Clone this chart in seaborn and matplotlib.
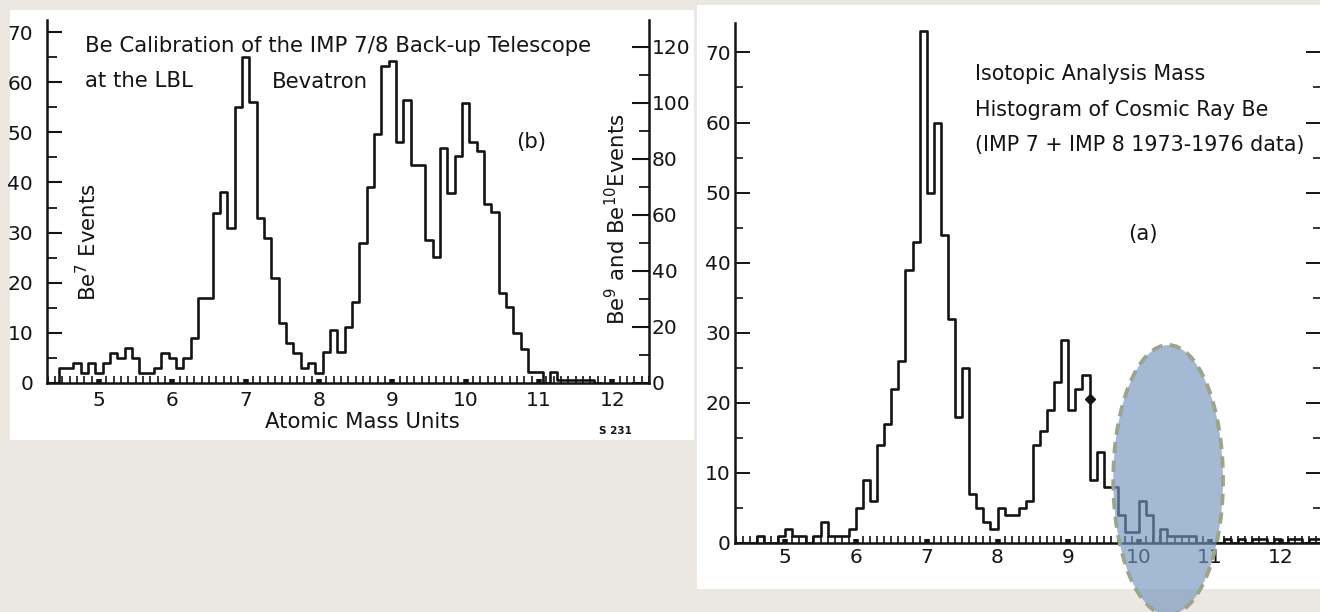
import numpy as np
import pandas as pd
import matplotlib
matplotlib.use("Agg")
import matplotlib.pyplot as plt
from matplotlib.patches import Ellipse, Rectangle
from matplotlib.ticker import MultipleLocator
import seaborn as sns

# ---------------------------------------------------------------- data
bin_width = 0.1

# (b) Bevatron calibration run, bins centred on 4.5, 4.6, ... amu
calib_first_center = 4.5
# Be7 part, read on the left scale (bins 4.5 .. 8.0)
be7_counts = [3, 3, 4, 2, 4, 2, 4, 6, 5, 7, 5, 2, 2, 3, 6, 5, 3, 5, 9, 17,
              17, 34, 38, 31, 55, 65, 56, 33, 29, 21, 12, 8, 6, 3, 4, 2]
# Be9 + Be10 part, read on the right scale (bins 8.1 .. 11.7)
be9_be10_counts = [11, 19, 11, 20, 29, 50, 70, 89, 113, 115, 86, 101, 78, 78,
                   51, 45, 84, 68, 81, 100, 86, 83, 64, 61, 32, 27, 18, 12,
                   4, 4, 0, 4, 1, 1, 1, 1, 1]

# (a) cosmic-ray Be, IMP 7 + IMP 8 1973-1976, bins with left edges 4.6 .. 12.4
cosmic_first_edge = 4.6
cosmic_counts = [1, 0, 0, 1, 2, 1, 1, 0, 1, 3, 1, 1, 1, 2, 5, 9, 6, 14, 17, 22,
                 26, 39, 43, 73, 50, 60, 44, 32, 18, 25, 7, 5, 3, 2, 5, 4, 4, 5,
                 6, 14, 16, 19, 23, 29, 19, 22, 24, 9, 13, 8, 8, 4, 1.5, 1.5,
                 6, 4, 0, 2, 1, 1, 1, 1, 0, 0, 0, 0, 0.5, 0, 0.5, 0, 0.5, 0.5,
                 0, 0.5, 0, 0.5, 0.5, 0, 0.5, 0.5]
# stray ink dot on the (a) histogram
cosmic_dot = (9.3, 20.5)

mass_ticks = [5, 6, 7, 8, 9, 10, 11, 12]
be7_ticks = [0, 10, 20, 30, 40, 50, 60, 70]
be910_ticks = [0, 20, 40, 60, 80, 100, 120]
cosmic_ticks = [0, 10, 20, 30, 40, 50, 60, 70]

# ---------------------------------------------------------------- style
sns.set_style("white")
plt.rcParams["font.family"] = ["DejaVu Sans"]
plt.rcParams["mathtext.fontset"] = "custom"
plt.rcParams["mathtext.rm"] = "DejaVu Sans"
plt.rcParams["mathtext.it"] = "DejaVu Sans"

INK = "#141414"
PAPER_BG = "#ebe7e1"
FS = 15.3        # lettering
FS_TICK = 14.5   # tick numerals

FW, FH = 1320, 612
fig = plt.figure(figsize=(FW / 100, FH / 100), dpi=100)
fig.patch.set_facecolor(PAPER_BG)


def box(x0, y0, x1, y1):
    """figure-fraction rectangle from pixel corners (origin top-left)"""
    return [x0 / FW, 1 - y1 / FH, (x1 - x0) / FW, (y1 - y0) / FH]


def ftext(x, y, s, **kw):
    kw.setdefault("fontsize", FS)
    kw.setdefault("color", INK)
    fig.text(x / FW, 1 - y / FH, s, **kw)


# white sheets behind each plot
for x0, y0, x1, y1 in [(10, 10, 694, 440), (697, 5, 1320, 589)]:
    l, b, w, h = box(x0, y0, x1, y1)
    fig.add_artist(Rectangle((l, b), w, h, transform=fig.transFigure,
                             facecolor="white", edgecolor="none", zorder=0))


def style_mass_axis(ax, pad):
    ax.set_xticks(mass_ticks)
    ax.set_xticklabels([str(t) for t in mass_ticks])
    ax.xaxis.set_minor_locator(MultipleLocator(0.1))
    ax.tick_params(axis="x", which="major", direction="in", length=3, width=4,
                   pad=pad, labelsize=FS_TICK, colors=INK, bottom=True)
    ax.tick_params(axis="x", which="minor", direction="in", length=5,
                   width=1.2, colors=INK, bottom=True)
    ax.set_xlabel("")
    ax.set_ylabel("")


# ---------------------------------------------------------------- (b)
ax_b = fig.add_axes(box(47, 20, 649, 383))
ax_b.set_facecolor("none")
b_left_top, b_right_top = 72.4, 129.6
scale_ratio = b_right_top / b_left_top

heights_b = np.concatenate([np.asarray(be7_counts, float),
                            np.asarray(be9_be10_counts, float) / scale_ratio])
heights_b = np.pad(heights_b, 1)
edges_b = (calib_first_center - 1.5 * bin_width
           + bin_width * np.arange(len(heights_b) + 1))
df_b = pd.DataFrame({"mass": edges_b[:-1] + bin_width / 2, "events": heights_b})
sns.histplot(data=df_b, x="mass", weights="events", bins=edges_b.tolist(),
             element="step", fill=False, color=INK, linewidth=1.9, ax=ax_b)

ax_b.set_xlim(4.29, 12.50)
ax_b.set_ylim(0, b_left_top)
style_mass_axis(ax_b, pad=6)
ax_b.set_yticks(be7_ticks)
ax_b.set_yticklabels([str(t) for t in be7_ticks])
ax_b.yaxis.set_minor_locator(MultipleLocator(5))
ax_b.tick_params(axis="y", which="major", direction="in", length=11, width=1.5,
                 pad=10, labelsize=FS_TICK, colors=INK, left=True)
ax_b.tick_params(axis="y", which="minor", direction="in", length=7, width=1.3,
                 colors=INK, left=True)
for side in ("top", "right"):
    ax_b.spines[side].set_visible(False)
for side in ("left", "bottom"):
    ax_b.spines[side].set_color(INK)
    ax_b.spines[side].set_linewidth(1.8)

ax_b2 = ax_b.twinx()
ax_b2.set_ylim(0, b_right_top)
ax_b2.set_yticks(be910_ticks)
ax_b2.set_yticklabels([str(t) for t in be910_ticks])
ax_b2.yaxis.set_minor_locator(MultipleLocator(10))
ax_b2.tick_params(axis="y", which="major", direction="in", length=12, width=1.5,
                  pad=2, labelsize=FS_TICK, colors=INK, right=True)
ax_b2.tick_params(axis="y", which="minor", direction="in", length=7, width=1.3,
                  colors=INK, right=True)
for side in ("top", "left", "bottom"):
    ax_b2.spines[side].set_visible(False)
ax_b2.spines["right"].set_color(INK)
ax_b2.spines["right"].set_linewidth(1.8)

ftext(85, 46, "Be Calibration of the IMP 7/8 Back-up Telescope", va="center")
ftext(85, 81, "at the LBL", va="center")
ftext(272, 82, "Bevatron", va="center")
ftext(531, 142, "(b)", ha="center", va="center")
ftext(88, 242, "Be$^{7}$ Events", ha="center", va="center", rotation=90)
ftext(617, 219, "Be$^{9}$ and Be$^{10}$Events", ha="center", va="center",
      rotation=90)
ftext(362, 422, "Atomic Mass Units", ha="center", va="center")
ftext(615, 431, "S 231", ha="center", va="center", fontsize=7.5,
      fontweight="bold")

# ---------------------------------------------------------------- (a)
ax_a = fig.add_axes(box(735, 23, 1321, 543))
ax_a.set_facecolor("none")
heights_a = np.pad(np.asarray(cosmic_counts, float), 1)
edges_a = cosmic_first_edge - bin_width + bin_width * np.arange(len(heights_a) + 1)
df_a = pd.DataFrame({"mass": edges_a[:-1] + bin_width / 2, "events": heights_a})
sns.histplot(data=df_a, x="mass", weights="events", bins=edges_a.tolist(),
             element="step", fill=False, color=INK, linewidth=1.9, ax=ax_a)
ax_a.plot([cosmic_dot[0]], [cosmic_dot[1]], marker="D", ms=5, color=INK)

ax_a.set_xlim(4.292, 12.569)
ax_a.set_ylim(0, 74.2)
style_mass_axis(ax_a, pad=3.5)
ax_a.set_yticks(cosmic_ticks)
ax_a.set_yticklabels([str(t) for t in cosmic_ticks])
ax_a.yaxis.set_minor_locator(MultipleLocator(5))
ax_a.tick_params(axis="y", which="major", direction="in", length=11, width=1.4,
                 pad=3, labelsize=FS_TICK, colors=INK, left=True, right=True,
                 labelright=False)
ax_a.tick_params(axis="y", which="minor", direction="in", length=6, width=1.2,
                 colors=INK, left=True, right=True)
ax_a.spines["top"].set_visible(False)
for side in ("left", "bottom", "right"):
    ax_a.spines[side].set_color(INK)
    ax_a.spines[side].set_linewidth(1.8)

ftext(975, 74, "Isotopic Analysis Mass", va="center", fontsize=14.9)
ftext(975, 110, "Histogram of Cosmic Ray Be", va="center", fontsize=14.9)
ftext(975, 145, "(IMP 7 + IMP 8 1973-1976 data)", va="center", fontsize=14.9)
ftext(1143, 234, "(a)", ha="center", va="center")

# highlighted Be10 region
ax_a.add_patch(Ellipse((10.41, 9.0), width=1.55, height=38.5,
                       facecolor=(0.45, 0.58, 0.74, 0.65),
                       edgecolor="#9ba58a", linewidth=2.8,
                       linestyle=(0, (2.9, 1.9)), clip_on=False, zorder=6))

fig.savefig("out.png", dpi=100, facecolor=fig.get_facecolor())
